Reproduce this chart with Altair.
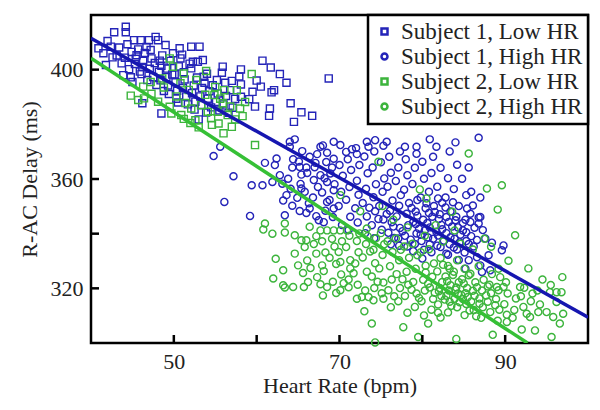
import altair as alt
import pandas as pd

SERIES = ["Subject 1, Low HR", "Subject 1, High HR", "Subject 2, Low HR", "Subject 2, High HR"]
COLORS = ["#2424b8", "#2424b8", "#3cb43c", "#3cb43c"]
SHAPES = ["square", "circle", "square", "circle"]

X_TICKS = [50, 60, 70, 80, 90]
Y_TICKS = [320, 340, 360, 380, 400]

# regression lines (heart rate, delay) endpoints
LINE1_X = [40, 100]
LINE1_Y = [411.5, 309.4]
LINE2_X = [40, 92.7]
LINE2_Y = [404.2, 300.0]

S1_LOW = [
    (40.9, 407.8), (41.8, 401.7), (42.4, 408.4), (42.8, 413.7), (44.2, 415.7), (44.2, 413.7),
    (45.2, 410.8), (46.0, 410.8), (47.0, 410.8), (48.1, 410.8), (49.9, 406.0), (50.7, 407.8),
    (52.1, 408.4), (53.1, 408.4), (52.3, 402.9), (52.9, 402.9), (52.1, 400.5), (55.9, 401.1),
    (53.6, 397.4), (58.1, 400.1), (60.7, 403.3), (61.7, 400.8), (62.8, 398.4), (63.6, 395.2),
    (68.7, 396.8), (56.2, 395.2), (57.0, 395.9), (58.1, 394.6), (59.5, 391.9), (62.1, 392.5),
    (61.8, 391.7), (58.1, 390.1), (59.1, 389.2), (64.1, 387.7), (61.6, 385.8), (61.5, 383.1),
    (65.4, 384.4), (66.7, 383.1), (64.5, 380.9), (55.8, 398.9),
    (43.1, 405.2), (43.4, 408.1), (43.7, 402.3), (44.1, 404.4), (44.4, 409.3), (44.6, 400.2),
    (44.9, 406.5), (45.3, 402.1), (45.5, 405.3), (45.7, 407.4), (45.9, 399.3), (45.4, 404.0),
    (46.1, 398.4), (46.3, 403.2), (46.5, 406.1), (46.7, 408.3), (46.2, 401.0), (46.8, 396.2),
    (47.1, 400.3), (47.3, 404.1), (47.5, 397.3), (47.2, 407.2), (47.7, 402.4), (47.9, 394.4),
    (48.2, 399.2), (48.4, 396.1), (48.3, 403.3), (48.6, 405.2), (48.8, 392.2), (48.5, 401.4),
    (49.1, 397.3), (49.3, 394.2), (49.2, 400.4), (49.6, 403.2), (49.4, 391.1), (49.8, 398.2),
    (50.2, 395.4), (50.4, 392.3), (50.1, 398.3), (50.6, 401.2), (50.3, 389.4), (50.8, 404.1),
    (51.1, 393.3), (51.3, 396.4), (51.5, 390.2), (51.2, 399.1), (51.7, 387.3), (51.9, 402.2),
    (52.2, 391.4), (52.4, 394.2), (52.6, 388.3), (52.8, 397.1), (52.5, 385.4), (53.2, 390.2),
    (53.4, 393.3), (53.3, 387.1), (53.7, 395.2), (53.9, 384.3), (54.1, 389.4), (54.3, 392.1),
    (54.5, 386.2), (54.7, 394.3), (55.1, 388.2), (55.3, 391.3), (55.5, 385.1), (55.2, 396.2),
    (56.0, 387.3), (56.3, 390.4), (56.6, 384.2), (57.1, 386.1), (57.4, 389.3), (46.2, 387.7),
    (48.5, 384.0), (50.5, 388.0), (45.0, 395.5), (43.9, 398.0), (42.6, 404.5), (41.5, 406.0),
    (42.0, 410.5), (54.0, 398.5), (51.0, 405.5), (49.0, 409.0), (47.8, 412.0), (53.5, 403.5),
    (56.8, 392.5), (57.9, 397.5), (60.0, 396.0), (59.8, 386.5), (60.5, 393.8), (44.8, 397.2),
    (53.0, 381.8),
]

S2_LOW = [
    (44.8, 390.5), (45.7, 388.9), (46.4, 389.5), (47.3, 391.2), (48.1, 388.3), (48.8, 393.5),
    (49.5, 386.4), (49.7, 384.0), (50.3, 390.2), (50.9, 383.4), (51.4, 387.8), (51.8, 392.6),
    (52.1, 385.8), (52.6, 381.5), (53.3, 387.0), (53.8, 390.8), (54.1, 384.6), (54.5, 382.2),
    (54.9, 390.7), (55.0, 393.7), (55.3, 384.6), (55.9, 387.7), (55.6, 389.4), (56.1, 392.5),
    (56.5, 383.4), (56.0, 376.7), (57.0, 379.1), (57.6, 392.5), (58.0, 385.8), (58.6, 388.2),
    (59.4, 398.4), (59.8, 372.4), (49.5, 404.1), (49.9, 401.1), (51.2, 398.6), (52.7, 396.2),
    (53.9, 399.5), (48.6, 396.8), (47.2, 395.5), (46.3, 393.8), (50.8, 395.0), (54.6, 379.8),
    (57.4, 381.8), (55.4, 380.3), (53.0, 378.9), (52.0, 380.5), (51.2, 382.0), (56.8, 386.5),
    (58.3, 383.0),
]

S1_HIGH = [
    (54.8, 368.4), (55.6, 371.8), (57.2, 361.0), (56.1, 351.6), (59.2, 346.5), (59.4, 357.7),
    (60.7, 357.7), (61.9, 358.9), (61.0, 365.9), (62.2, 365.1), (62.4, 367.5), (63.4, 346.7),
    (63.6, 354.1), (64.3, 364.2), (65.4, 361.6), (65.4, 356.5), (66.0, 347.6), (66.4, 349.2),
    (67.5, 344.9), (66.9, 359.6), (67.7, 361.4), (68.5, 358.9), (67.7, 371.8), (68.5, 369.6),
    (67.1, 365.9), (68.9, 362.0), (69.3, 355.9), (68.5, 351.6), (69.3, 349.2), (64.0, 373.6),
    (64.6, 374.5), (64.0, 371.8), (65.2, 364.4), (66.0, 364.2), (69.3, 373.6), (70.8, 369.9),
    (71.5, 370.9), (72.1, 369.1), (73.3, 373.6), (74.3, 374.2), (73.5, 371.8), (75.7, 373.6),
    (77.9, 371.8), (79.3, 371.8), (80.9, 374.5), (81.7, 371.8), (84.0, 373.4), (86.8, 375.1),
    (85.6, 364.2), (87.0, 353.2), (85.3, 354.1), (85.9, 355.3), (86.8, 345.9), (85.8, 344.3),
    (89.8, 335.7), (89.6, 333.9), (87.0, 346.1), (86.8, 343.7), (87.6, 338.2), (88.0, 332.1),
    (88.2, 326.6), (87.0, 328.4), (85.2, 327.2), (85.6, 330.3), (87.2, 326.0), (82.9, 332.7),
    (63.2, 352.1), (63.1, 358.3), (62.8, 361.4), (64.3, 350.2), (64.1, 356.4), (63.8, 360.1),
    (64.4, 367.2), (65.2, 348.3), (64.9, 353.1), (65.3, 358.2), (65.1, 366.4), (65.5, 370.2),
    (66.3, 351.1), (65.8, 355.3), (66.1, 362.2), (66.4, 368.1), (67.2, 346.4), (66.8, 353.2),
    (67.4, 357.1), (67.0, 364.3), (67.3, 369.1), (68.1, 344.2), (68.3, 348.4), (67.9, 355.1),
    (68.2, 360.3), (68.4, 366.2), (68.0, 372.3), (69.2, 346.1), (68.8, 352.3), (69.4, 358.1),
    (69.1, 364.2), (69.3, 367.4), (70.3, 343.2), (69.9, 350.1), (70.2, 355.3), (70.4, 361.2),
    (70.0, 365.1), (70.1, 372.4), (71.1, 341.3), (71.3, 346.2), (70.8, 352.4), (71.2, 357.1),
    (71.4, 363.3), (71.0, 367.2), (72.2, 344.1), (71.9, 349.3), (72.3, 354.2), (72.1, 359.4),
    (72.4, 365.1), (72.0, 371.3), (73.1, 340.2), (73.3, 346.3), (72.8, 351.2), (73.2, 356.4),
    (73.4, 362.1), (73.0, 368.2), (74.2, 338.3), (73.9, 343.1), (74.3, 348.2), (74.1, 353.3),
    (74.4, 358.1), (74.0, 364.2), (74.2, 370.1), (75.1, 341.4), (75.3, 345.2), (74.8, 350.1),
    (75.2, 355.3), (75.4, 360.2), (75.0, 366.1), (75.3, 372.2), (76.2, 336.1), (75.9, 340.3),
    (76.3, 344.2), (76.1, 348.4), (76.4, 352.1), (75.8, 357.2), (76.2, 362.3), (76.0, 368.1),
    (77.1, 338.2), (77.3, 342.1), (76.9, 346.3), (77.2, 350.2), (77.4, 354.1), (76.8, 359.3),
    (77.1, 364.2), (77.3, 370.1), (78.2, 335.3), (77.9, 339.2), (78.3, 343.1), (78.1, 347.3),
    (78.4, 351.2), (77.8, 356.1), (78.2, 361.4), (78.0, 367.2), (79.1, 336.2), (79.3, 340.1),
    (78.9, 344.3), (79.2, 348.1), (79.4, 352.3), (78.8, 358.2), (79.1, 364.1), (79.3, 369.2),
    (80.2, 334.1), (79.9, 337.3), (80.3, 341.2), (80.1, 345.1), (80.4, 349.3), (79.8, 353.2),
    (80.2, 360.1), (80.0, 366.3), (81.1, 333.2), (81.3, 338.1), (80.9, 342.3), (81.2, 346.2),
    (81.4, 350.1), (80.8, 355.3), (81.1, 362.2), (81.3, 368.1), (82.2, 335.1), (81.9, 339.3),
    (82.3, 343.2), (82.1, 347.1), (82.4, 351.3), (81.8, 357.2), (82.2, 364.1), (83.1, 332.3),
    (83.3, 336.1), (82.9, 340.2), (83.2, 344.3), (83.4, 348.1), (82.8, 353.2), (83.1, 360.3),
    (83.3, 370.1), (84.2, 334.2), (83.9, 338.1), (84.3, 342.3), (84.1, 346.2), (84.4, 350.1),
    (83.8, 356.3), (84.2, 365.2), (85.1, 333.1), (85.3, 337.3), (84.9, 341.2), (85.2, 345.1),
    (85.4, 349.2), (84.8, 360.1), (86.2, 335.3), (85.9, 339.1), (86.3, 342.2), (86.1, 350.3),
    (79.6, 341.8), (80.6, 343.9), (81.7, 340.7), (82.6, 337.4), (83.6, 342.6), (84.6, 339.6),
    (80.9, 336.1), (82.0, 345.4), (83.8, 334.9), (79.4, 346.6), (78.6, 337.8), (84.9, 343.9),
    (81.5, 347.9), (82.8, 349.6), (80.5, 351.1), (77.6, 340.9), (76.6, 338.4), (85.6, 336.2),
    (78.9, 333.6), (79.8, 339.6), (80.7, 338.6), (81.8, 335.6), (82.4, 341.6), (83.4, 338.7),
    (84.5, 336.8), (85.3, 340.5), (86.6, 337.7), (79.2, 343.5), (80.8, 347.6), (82.9, 346.1),
    (84.0, 344.9), (77.2, 335.6), (76.5, 342.6), (75.7, 347.2), (74.7, 345.4), (73.6, 349.5),
    (78.7, 349.4), (81.9, 352.9), (83.7, 351.5), (85.8, 347.3), (87.3, 341.3), (88.4, 336.7),
    (86.6, 331.4), (84.4, 330.4), (80.0, 330.9),
]

S2_HIGH = [
    (61.0, 343.7), (60.8, 341.5), (61.9, 340.0), (63.4, 343.7), (63.4, 340.4), (64.6, 339.4),
    (66.4, 342.5), (67.7, 341.2), (68.5, 341.2), (69.3, 341.2), (70.1, 341.2), (70.9, 341.2),
    (65.4, 337.6), (66.0, 337.6), (64.6, 332.7), (63.2, 326.6), (65.0, 328.4), (65.6, 325.6),
    (63.2, 321.1), (64.4, 320.5), (65.7, 320.5), (63.4, 320.3), (68.0, 317.4), (68.5, 320.5),
    (67.9, 328.4), (67.2, 332.7), (69.6, 328.9), (70.1, 329.6), (71.3, 330.3), (70.1, 319.3),
    (71.1, 320.4), (72.1, 316.2), (72.7, 316.8), (73.0, 311.6), (73.9, 307.1), (73.5, 316.8),
    (74.1, 315.6), (75.3, 316.2), (87.8, 356.5), (89.6, 357.7), (89.1, 348.8), (91.2, 339.4),
    (91.8, 320.5), (95.4, 318.6), (96.2, 318.6), (96.8, 318.6), (96.2, 315.0), (95.0, 311.3),
    (95.8, 309.5), (97.0, 310.7), (96.6, 307.1), (94.0, 311.3), (92.6, 310.7), (93.0, 309.5),
    (93.6, 304.6), (95.6, 302.2), (92.0, 304.9), (90.2, 307.7), (77.7, 305.8), (80.7, 307.1),
    (79.5, 302.2), (83.3, 327.2), (85.6, 324.8), (89.2, 327.2), (89.0, 320.5), (89.8, 320.5),
    (85.6, 369.3), (70.1, 354.1), (79.7, 356.2), (74.7, 366.3), (80.5, 352.9), (83.6, 348.0),
    (73.3, 341.9), (74.3, 300.2), (84.1, 301.5), (88.5, 303.0),
    (66.2, 322.3), (66.1, 330.2), (65.8, 335.1), (67.3, 324.1), (66.9, 336.2), (67.2, 339.1),
    (68.1, 326.3), (68.3, 333.1), (67.9, 337.2), (69.2, 322.4), (68.8, 331.2), (69.4, 335.3),
    (69.1, 338.1), (70.2, 325.1), (69.9, 333.3), (70.3, 337.2), (71.1, 323.2), (71.3, 327.3),
    (70.8, 335.1), (71.2, 339.2), (72.2, 321.3), (71.9, 329.1), (72.3, 333.2), (72.1, 337.3),
    (72.4, 340.1), (73.1, 319.2), (73.3, 326.1), (72.8, 331.3), (73.2, 336.2), (73.4, 339.1),
    (74.2, 320.1), (73.9, 324.3), (74.3, 329.2), (74.1, 334.1), (74.4, 338.3), (75.1, 318.2),
    (75.3, 322.1), (74.8, 327.3), (75.2, 332.2), (75.4, 336.1), (75.0, 340.2), (76.2, 313.1),
    (75.9, 319.3), (76.3, 323.2), (76.1, 328.1), (76.4, 333.3), (75.8, 337.2), (77.1, 315.3),
    (77.3, 320.1), (76.9, 325.2), (77.2, 330.3), (77.4, 334.1), (76.8, 338.2), (78.2, 311.1),
    (77.9, 317.2), (78.3, 321.3), (78.1, 326.1), (78.4, 331.2), (77.8, 335.3), (79.1, 313.2),
    (79.3, 318.1), (78.9, 322.3), (79.2, 327.2), (79.4, 332.1), (78.8, 336.3), (80.2, 310.1),
    (79.9, 315.3), (80.3, 319.2), (80.1, 323.1), (80.4, 328.3), (79.8, 333.2), (81.1, 312.2),
    (81.3, 316.1), (80.9, 320.3), (81.2, 324.2), (81.4, 329.1), (80.8, 334.3), (82.2, 309.3),
    (81.9, 314.1), (82.3, 317.2), (82.1, 320.1), (82.4, 322.3), (81.8, 326.2), (82.2, 331.1),
    (83.1, 311.2), (83.3, 315.1), (82.9, 317.3), (83.2, 319.2), (83.4, 321.1), (82.8, 324.3),
    (83.1, 328.2), (84.2, 313.1), (83.9, 316.2), (84.3, 318.1), (84.1, 320.3), (84.4, 322.2),
    (83.8, 326.1), (84.2, 330.3), (85.1, 310.2), (85.3, 314.3), (84.9, 316.1), (85.2, 318.2),
    (85.4, 320.1), (84.8, 323.3), (85.1, 327.2), (86.2, 312.1), (85.9, 315.2), (86.3, 317.3),
    (86.1, 319.1), (86.4, 322.2), (85.8, 325.3), (87.1, 309.2), (87.3, 313.1), (86.9, 316.3),
    (87.2, 319.2), (87.4, 323.1), (86.8, 328.1), (88.2, 311.3), (87.9, 315.1), (88.3, 318.2),
    (88.1, 321.3), (88.4, 325.2), (89.1, 308.1), (89.3, 312.2), (88.9, 316.1), (89.2, 319.3),
    (89.4, 324.1), (90.2, 310.3), (89.9, 314.2), (90.3, 318.1), (90.1, 322.2), (91.1, 312.1),
    (91.3, 316.3), (90.9, 309.2), (92.2, 313.2), (91.9, 317.1), (92.3, 320.2), (93.1, 315.3),
    (93.3, 318.1), (94.2, 314.1), (93.9, 319.2),
    (76.5, 345.1), (78.2, 342.3), (80.3, 339.2), (82.5, 337.1), (84.6, 336.3), (86.1, 334.2),
    (75.2, 350.1), (72.5, 348.2), (81.6, 343.1), (83.9, 341.2), (87.5, 338.1), (88.3, 335.2),
    (90.4, 330.1), (92.8, 327.3), (94.5, 323.2), (96.9, 324.1), (95.5, 321.2),
    (81.5, 318.4), (82.7, 315.9), (83.5, 313.6), (84.7, 317.6), (85.7, 311.9), (86.6, 320.4),
    (84.0, 319.5), (83.0, 322.6), (82.0, 318.9), (85.5, 316.8), (86.9, 314.4), (87.7, 317.4),
    (88.8, 313.8), (80.7, 321.7), (79.6, 316.5), (78.7, 319.5), (81.9, 311.1), (84.5, 314.9),
    (83.7, 324.9), (85.0, 321.8), (86.5, 309.8), (87.9, 320.7), (82.5, 328.6), (80.4, 325.8),
    (77.6, 323.3), (76.6, 317.1), (74.6, 322.4), (73.7, 333.5), (71.7, 325.5), (70.5, 321.9),
    (69.6, 318.3), (67.7, 321.5), (66.5, 327.4), (62.3, 330.8), (62.0, 323.6),
]

rows = []
for name, pts in zip(SERIES, [S1_LOW, S1_HIGH, S2_LOW, S2_HIGH]):
    for hx, ry in pts:
        rows.append({"hr": hx, "rr": ry, "series": name})
df = pd.DataFrame(rows)

line1 = pd.DataFrame({"hr": LINE1_X, "rr": LINE1_Y})
line2 = pd.DataFrame({"hr": LINE2_X, "rr": LINE2_Y})
xt = pd.DataFrame({"hr": X_TICKS})
yt = pd.DataFrame({"rr": Y_TICKS})

FONT = "Liberation Serif"
W, H = 497, 328

xscale = alt.Scale(domain=[40, 100], nice=False, zero=False)
yscale = alt.Scale(domain=[300, 420], nice=False, zero=False)

xaxis = alt.Axis(values=X_TICKS, labelExpr="(datum.value - 50) % 20 == 0 ? datum.label : ''",
                 title="Heart Rate (bpm)", labelPadding=8, titlePadding=3)
yaxis = alt.Axis(values=Y_TICKS, labelExpr="datum.value % 40 == 0 ? datum.label : ''",
                 title="R-AC Delay (ms)", labelPadding=8, titlePadding=9)

points = alt.Chart(df).mark_point(filled=False, size=50, strokeWidth=1.4, opacity=1).encode(
    x=alt.X("hr:Q", scale=xscale, axis=xaxis),
    y=alt.Y("rr:Q", scale=yscale, axis=yaxis),
    color=alt.Color("series:N", scale=alt.Scale(domain=SERIES, range=COLORS), title=None),
    shape=alt.Shape("series:N", scale=alt.Scale(domain=SERIES, range=SHAPES), title=None),
)

l1 = alt.Chart(line1).mark_line(color="#1616b0", strokeWidth=3.5, clip=True).encode(
    x="hr:Q", y="rr:Q")
l2 = alt.Chart(line2).mark_line(color="#36c036", strokeWidth=3.5, clip=True).encode(
    x="hr:Q", y="rr:Q")

tx = alt.Chart(xt).mark_rule(color="black", strokeWidth=2.5).encode(
    x="hr:Q", y=alt.value(H - 8), y2=alt.value(H))
ty = alt.Chart(yt).mark_rule(color="black", strokeWidth=2.5).encode(
    y="rr:Q", x=alt.value(0), x2=alt.value(8))

chart = alt.layer(points, l1, l2, tx, ty).properties(
    width=W, height=H,
    autosize=alt.AutoSizeParams(type="none"),
    padding={"left": 83, "top": 7, "right": 4, "bottom": 60},
).configure_view(stroke="black", strokeWidth=2.5).configure_axis(
    domain=False, ticks=False, grid=False,
    labelFont=FONT, labelFontSize=22, labelColor="#222222",
    titleFont=FONT, titleFontSize=22, titleFontWeight="normal", titleColor="#222222",
).configure_legend(
    orient="top-right", offset=0, strokeColor="black", strokeWidth=2.5, fillColor="white",
    padding=5, labelFont=FONT, labelFontSize=23, labelColor="#222222",
    symbolSize=36, symbolStrokeWidth=2.5, rowPadding=1, labelOffset=5, symbolOffset=0,
    labelLimit=300,
)

chart.save("out.html", embed_options={"renderer": "svg", "actions": False})
